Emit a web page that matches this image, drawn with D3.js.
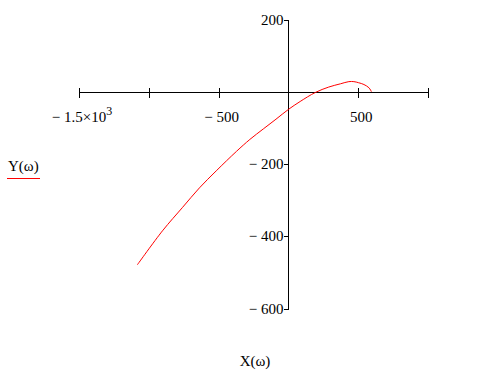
<!DOCTYPE html>
<html>
<head>
<meta charset="utf-8">
<script src="https://cdn.jsdelivr.net/npm/d3@7"></script>
<style>
  body { margin: 0; background: #fff; }
  text { font-family: "Liberation Serif", "Times New Roman", serif; font-size: 15px; fill: #000; }
</style>
</head>
<body>
<svg class="canvas"></svg>
<script>
var width = 478,
    height = 371;

// curve: X(w), Y(w)
var xVals = [-1082, -902, -758, -637, -517, -372, -276, -180, -89, 0, 84, 193, 289, 373, 433, 469, 503, 541, 577, 595];
var yVals = [-479, -385, -320, -266, -219, -165, -132, -103, -76, -49, -27, -2, 13, 22, 28, 28, 25, 20, 11, 0];

var xTicks = [-1500, -1000, -500, 0, 500, 1000];
var xLabels = [-1500, -500, 500];
var yTicks = [-600, -400, -200, 0, 200];
var yLabels = [-600, -400, -200, 200];

var svg = d3.select(".canvas")
    .attr("width", width)
    .attr("height", height);

var x = d3.scaleLinear().domain([-1500, 1000]).range([79, 428]);
var y = d3.scaleLinear().domain([-600, 200]).range([308.5, 19.5]);

var px = v => Math.round(x(v)) + 0.5,
    py = v => Math.round(y(v)) + 0.5;

var x0 = px(0),
    y0 = py(0);

var axes = svg.append("g")
    .attr("stroke", "#000")
    .attr("stroke-width", 1)
    .attr("shape-rendering", "crispEdges");

// horizontal axis
axes.append("line")
    .attr("x1", px(-1500)).attr("x2", px(1000))
    .attr("y1", y0).attr("y2", y0);
axes.selectAll(".xt")
  .data(xTicks.filter(d => d !== 0))
  .enter().append("line")
    .attr("x1", px)
    .attr("x2", px)
    .attr("y1", y0 - 5).attr("y2", y0 + 5);

// vertical axis
axes.append("line")
    .attr("x1", x0).attr("x2", x0)
    .attr("y1", py(200)).attr("y2", py(-600));
axes.selectAll(".yt")
  .data(yTicks)
  .enter().append("line")
    .attr("x1", x0 - 5).attr("x2", x0)
    .attr("y1", py)
    .attr("y2", py);

function fmt(v) {
  var s = v < 0 ? "\u2212 " : "";
  return s + Math.abs(v);
}

// x labels
var xl = svg.selectAll(".xl")
  .data(xLabels)
  .enter().append("text")
    .attr("x", d => x(d) + 3)
    .attr("y", 122)
    .attr("text-anchor", "middle");
xl.each(function(d) {
  var t = d3.select(this);
  if (Math.abs(d) >= 1000) {
    t.append("tspan").text("\u2212 1.5\u00d710");
    t.append("tspan").attr("dy", -7).style("font-size", "12px").text("3");
  } else {
    t.text(fmt(d));
  }
});

// y labels
svg.selectAll(".yl")
  .data(yLabels)
  .enter().append("text")
    .attr("x", x0 - 5)
    .attr("y", d => y(d) + 5)
    .attr("text-anchor", "end")
    .text(fmt);

// curve
var pts = xVals.map((v, i) => [v, yVals[i]]);
svg.append("path")
    .datum(pts)
    .attr("fill", "none")
    .attr("stroke", "#ff0000")
    .attr("stroke-width", 1)
    .attr("d", d3.line().x(d => x(d[0])).y(d => y(d[1])).curve(d3.curveCatmullRom));

// axis titles
svg.append("text")
    .attr("x", 8).attr("y", 171)
    .text("Y(\u03c9)");
svg.append("line")
    .attr("x1", 7).attr("x2", 40)
    .attr("y1", 178.5).attr("y2", 178.5)
    .attr("stroke", "#ff0000")
    .attr("shape-rendering", "crispEdges");
svg.append("text")
    .attr("x", 255).attr("y", 366)
    .attr("text-anchor", "middle")
    .text("X(\u03c9)");
</script>
</body>
</html>
